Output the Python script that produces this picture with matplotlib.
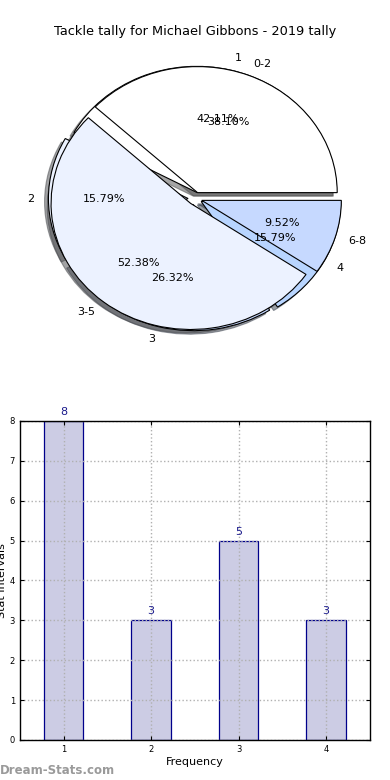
import matplotlib
matplotlib.use("Agg")
import matplotlib.pyplot as plt

title = "Tackle tally for Michael Gibbons - 2019 tally"
freq_labels = ["1", "2", "3", "4"]
freq_values = [8, 3, 5, 3]
interval_labels = ["0-2", "3-5", "6-8"]
interval_values = [8, 11, 2]
bar_x = [1, 2, 3, 4]
bar_values = [8, 3, 5, 3]
yticks = [0, 1, 2, 3, 4, 5, 6, 7, 8]

pie_colors = ["#ffffff", "#ecf2ff", "#c6d9ff", "#b8d5ff"]

fig = plt.figure(figsize=(3.9, 7.8), dpi=100)

# ---- Pie panel
ax1 = fig.add_axes([0.0526, 0.5435, 0.895, 0.404])
ex = 0.05
w1, t1, a1 = ax1.pie(freq_values, labels=freq_labels, colors=pie_colors[:4],
                     explode=[ex] * 4, shadow=True, autopct="%.2f%%",
                     wedgeprops=dict(linewidth=0.8, edgecolor="black"),
                     textprops=dict(fontsize=8))
w2, t2, a2 = ax1.pie(interval_values, labels=interval_labels, colors=pie_colors[:3],
                     explode=[ex] * 3, shadow=True, autopct="%.2f%%",
                     wedgeprops=dict(linewidth=0.8, edgecolor="black"),
                     textprops=dict(fontsize=8))
ax1.set_aspect("auto")
ax1.set_xlim(-1.25, 1.25)
ax1.set_ylim(-1.25, 1.25)
ax1.set_title(title, fontsize=9.3, pad=4)

# ---- Bar panel
ax2 = fig.add_axes([0.051, 0.0513, 0.897, 0.409])
bars = ax2.bar(bar_x, bar_values, width=0.45, color="#ccccE4", edgecolor="#00008b",
               linewidth=0.9, zorder=2)
for xb, v in zip(bar_x, bar_values):
    ax2.text(xb, v + 0.1, str(v), ha="center", va="bottom", fontsize=8, color="#1a1a8c")
ax2.set_xlim(0.5, 4.5)
ax2.set_ylim(0, 8)
ax2.set_xticks(bar_x)
ax2.set_yticks(yticks)
ax2.tick_params(labelsize=6, direction="in", length=3, top=True, right=True)
ax2.grid(True, linestyle=":", color="#b0b0b0", linewidth=1.0)
ax2.set_axisbelow(False)
ax2.set_xlabel("Frequency", fontsize=8, labelpad=2)
ax2.set_ylabel("Stat Intervals", fontsize=8, labelpad=2)
for s in ax2.spines.values():
    s.set_linewidth(1.0)
    s.set_zorder(5)

fig.text(0.0, 0.004, "Dream-Stats.com", fontsize=8.5, color="#9a9a9a", fontweight="bold",
         ha="left", va="bottom")

fig.savefig("out.png", dpi=100)
